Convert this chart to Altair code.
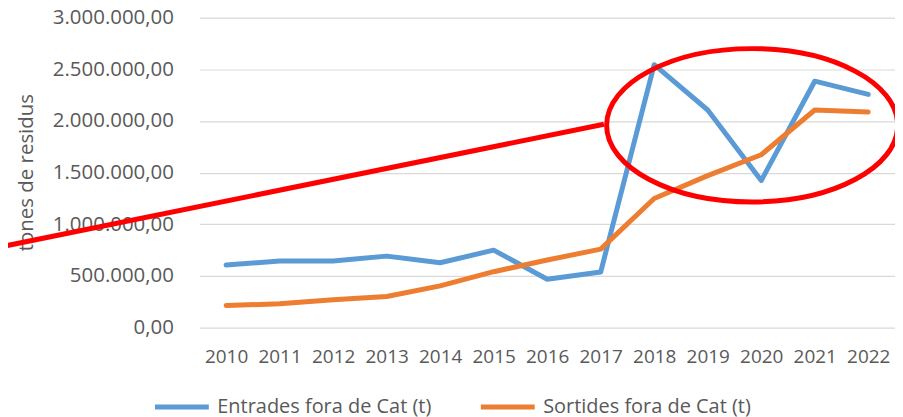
import altair as alt
import pandas as pd

# ---- data ----
years = list(range(2010, 2023))
entrades = [606000, 644000, 644000, 692000, 628000, 750000, 468000, 538000,
            2545000, 2106000, 1423000, 2385000, 2257000]
sortides = [214000, 230000, 269000, 301000, 404000, 541000, 654000, 760000,
            1250000, 1471000, 1673000, 2106000, 2087000]
series_names = ["Entrades fora de Cat (t)", "Sortides fora de Cat (t)"]
series_colors = ["#5B9BD5", "#ED7D31"]

y_ticks = [0, 500000, 1000000, 1500000, 2000000, 2500000, 3000000]
y_tick_labels = ["0,00", "500.000,00", "1.000.000,00", "1.500.000,00",
                 "2.000.000,00", "2.500.000,00", "3.000.000,00"]

# red annotation (data units)
ann_line_x = [2005.78, 2017.06]
ann_line_y = [781000, 1968000]
ell_center_x = [2019.83]
ell_center_y = [1958000]

# ---- tables ----
rows = []
for name, vals in zip(series_names, [entrades, sortides]):
    for yr, v in zip(years, vals):
        rows.append({"year": yr, "value": v, "series": name})
df = pd.DataFrame(rows)
line_df = pd.DataFrame({"x": ann_line_x, "y": ann_line_y})
ell_df = pd.DataFrame({"x": ell_center_x, "y": ell_center_y})

x_scale = alt.Scale(domain=[2009.5, 2022.5], nice=False, zero=False)
y_scale = alt.Scale(domain=[0, 3000000], nice=False)

label_expr = " : ".join(
    f"datum.value == {t} ? '{l}'" for t, l in zip(y_ticks, y_tick_labels)
) + " : ''"

base = alt.Chart(df).mark_line(strokeWidth=5, strokeCap="round", strokeJoin="round").encode(
    x=alt.X("year:Q", scale=x_scale,
            axis=alt.Axis(values=years, format="d", grid=False, ticks=False, domain=False,
                          labelPadding=20, labelFontSize=19, labelFlush=False, title=None)),
    y=alt.Y("value:Q", scale=y_scale,
            axis=alt.Axis(values=y_ticks, labelExpr=label_expr, grid=True, ticks=False,
                          domain=False, labelPadding=26, labelFontSize=20.5,
                          title="tones de residus", titleX=-173, titleY=155,
                          titleAngle=-90, titleAlign="center", titleBaseline="middle",
                          titleFontSize=20.5, titleFontWeight="normal")),
    color=alt.Color("series:N",
                    scale=alt.Scale(domain=series_names, range=series_colors),
                    legend=alt.Legend(orient="none", direction="horizontal",
                                      legendX=-47, legendY=361, title=None,
                                      symbolType="stroke", symbolSize=2916,
                                      symbolStrokeWidth=5, labelOffset=6,
                                      columnPadding=39, labelFontSize=20,
                                      labelLimit=400, padding=0)),
)

red_line = alt.Chart(line_df).mark_line(color="#FF0000", strokeWidth=5).encode(
    x=alt.X("x:Q", scale=x_scale),
    y=alt.Y("y:Q", scale=y_scale),
)

ellipse = alt.Chart(ell_df).mark_point(
    shape="M -1 0 A 1 0.527 0 1 1 1 0 A 1 0.527 0 1 1 -1 0 Z",
    size=85264, filled=False, stroke="#FF0000", strokeWidth=5, opacity=1,
).encode(
    x=alt.X("x:Q", scale=x_scale),
    y=alt.Y("y:Q", scale=y_scale),
)

chart = alt.layer(base, red_line, ellipse).properties(
    width=698, height=311,
    autosize=alt.AutoSizeParams(type="none"),
    padding={"left": 192, "top": 9, "right": 0, "bottom": 89},
).configure_view(stroke=None).configure_axis(
    labelFont="Open Sans", titleFont="Open Sans",
    labelColor="#595959", titleColor="#595959",
    gridColor="#D9D9D9", gridWidth=1.2,
).configure_legend(
    labelFont="Open Sans", labelColor="#595959",
)

chart.save("out.html", embed_options={"renderer": "svg", "actions": False})
